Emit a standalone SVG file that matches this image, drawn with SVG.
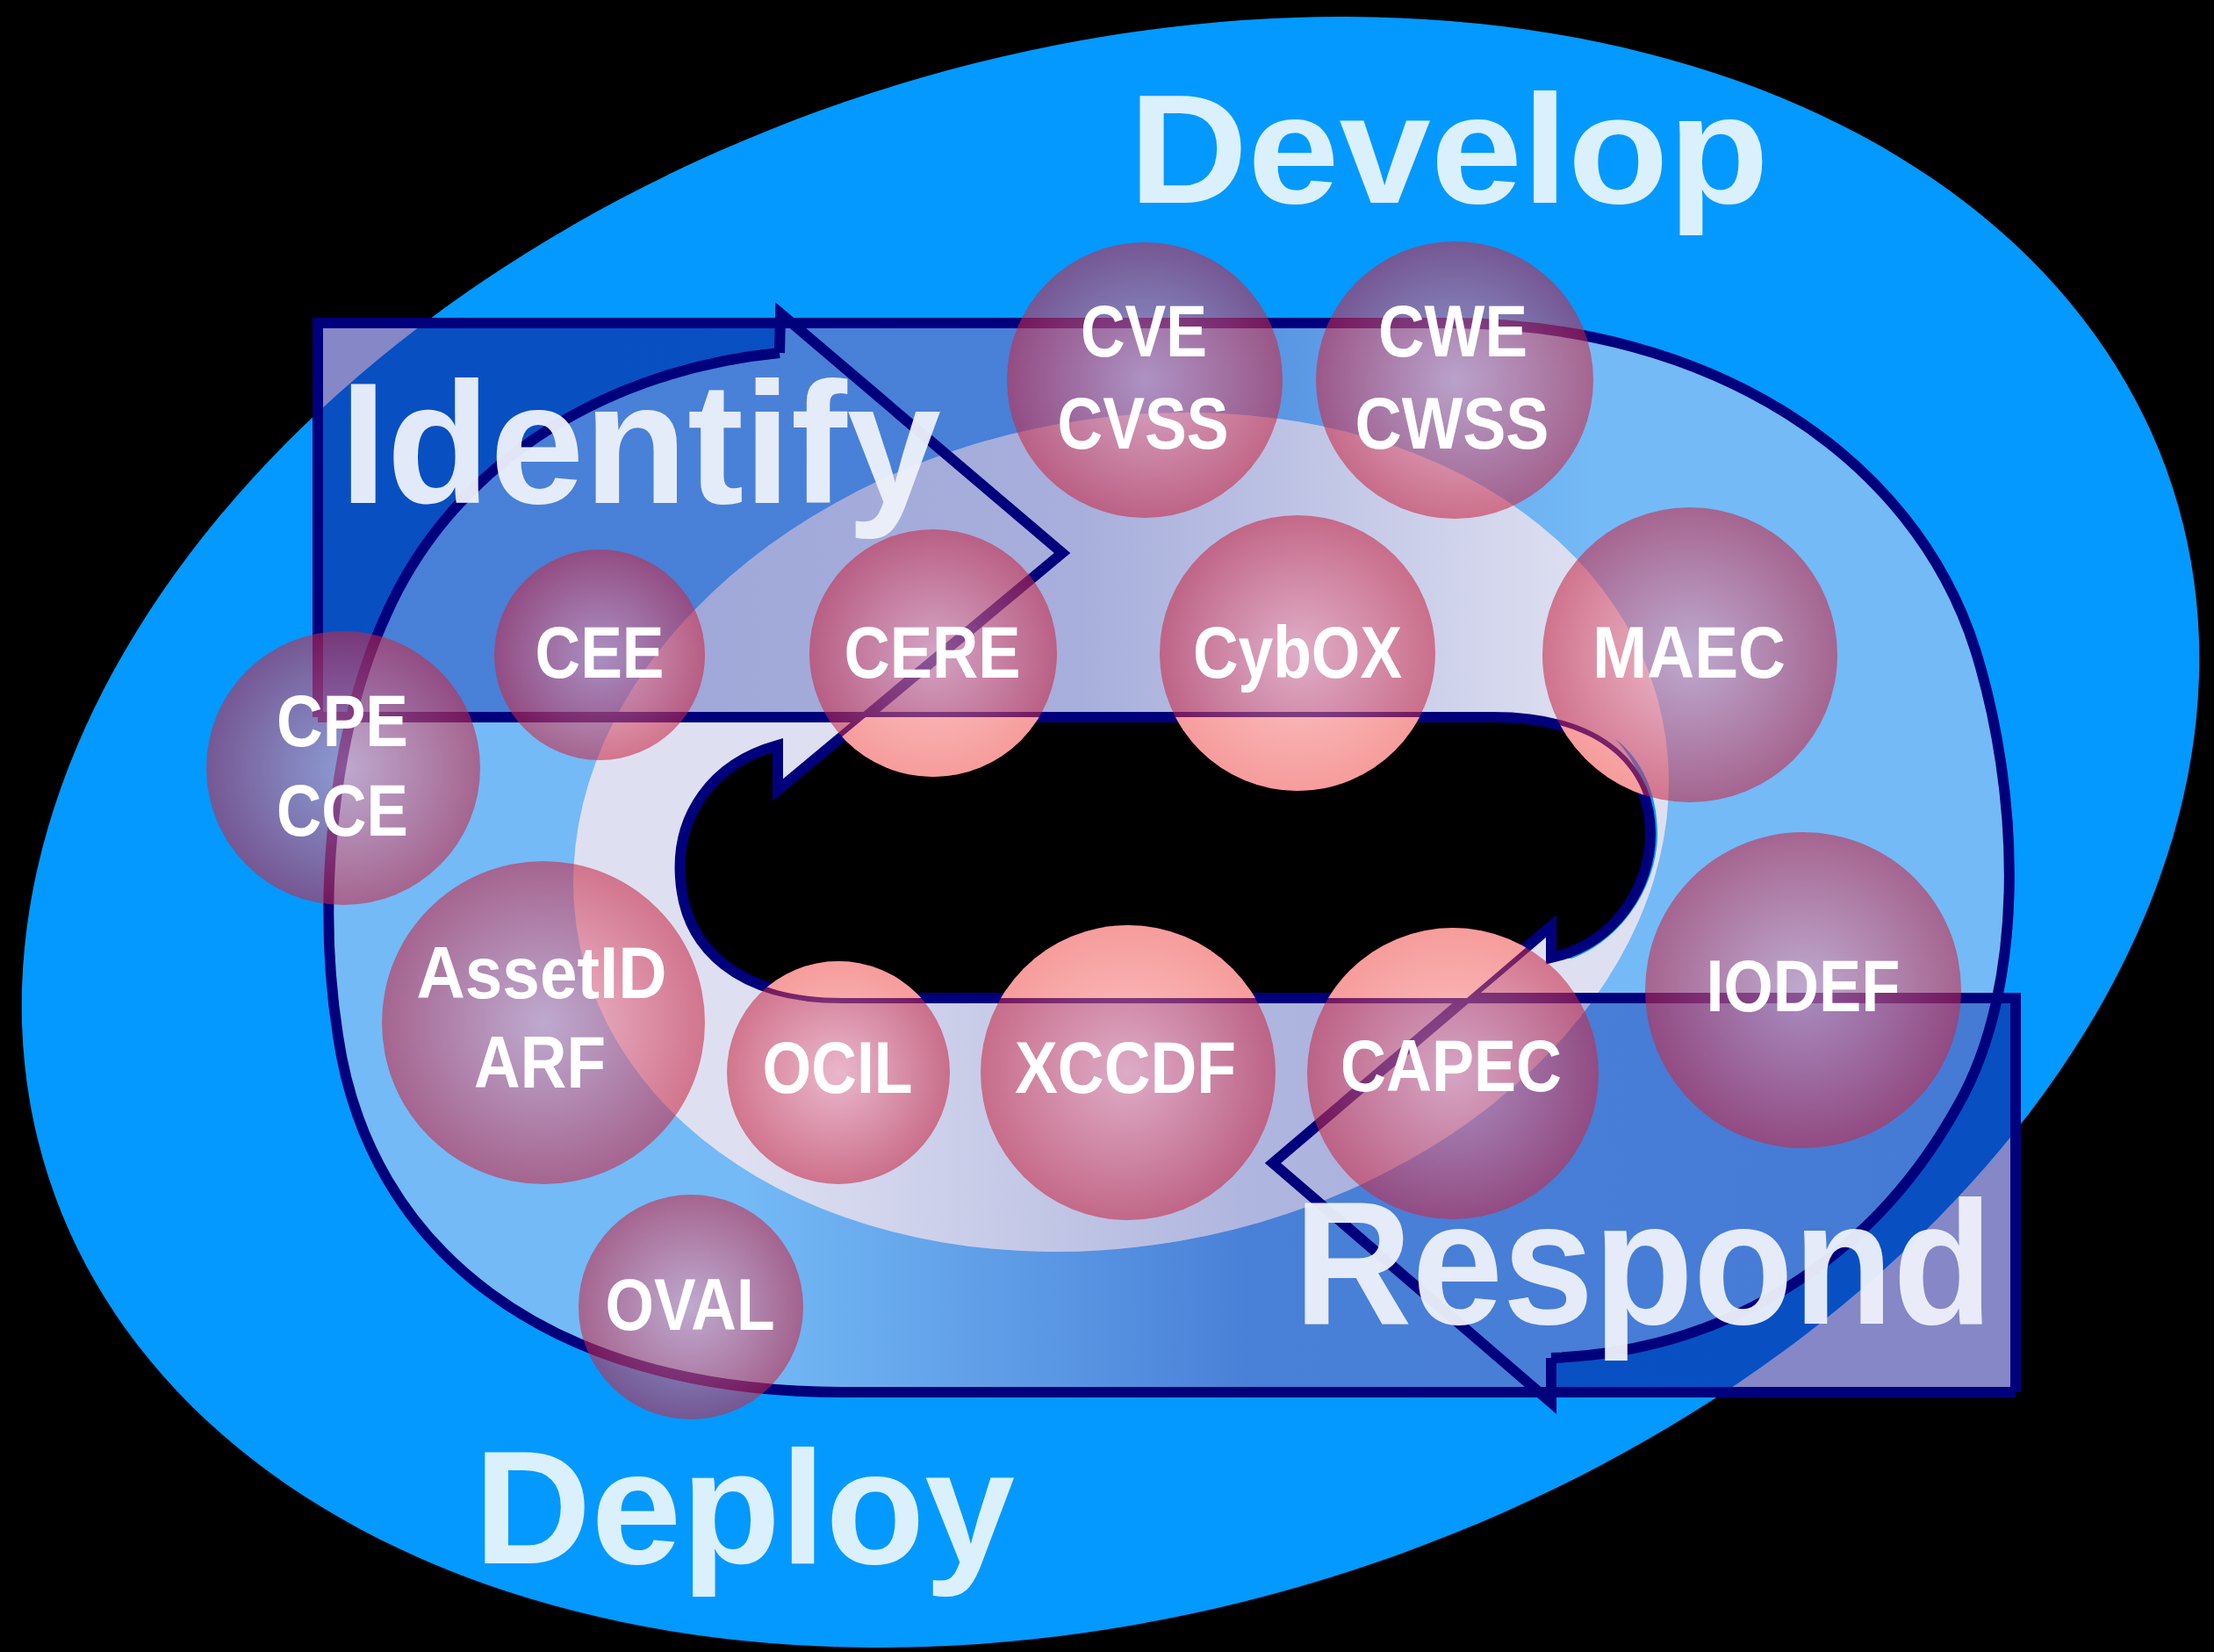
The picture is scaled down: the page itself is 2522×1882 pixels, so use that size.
<svg xmlns="http://www.w3.org/2000/svg" width="2522" height="1882" viewBox="0 0 2522 1882">
<style>
.lbl{font-family:"Liberation Sans",Arial,sans-serif;font-weight:bold;font-size:83px;fill:#ffffff;text-anchor:middle}
.big{font-family:"Liberation Sans",Arial,sans-serif;font-weight:bold}
.nav{fill:none;stroke:#00007c;stroke-width:12;stroke-linejoin:miter;stroke-miterlimit:10}
.c{fill:url(#pg)}
.ch{fill:url(#ph)}
</style>
<defs>
<radialGradient id="pg" cx="0.5" cy="0.5" r="0.5">
<stop offset="0" stop-color="rgb(250,155,175)" stop-opacity="0.55"/>
<stop offset="1" stop-color="rgb(200,40,70)" stop-opacity="0.58"/>
</radialGradient>
<radialGradient id="ph" cx="0.5" cy="0.5" r="0.5">
<stop offset="0" stop-color="#fcc6c6"/>
<stop offset="1" stop-color="#f69c9c"/>
</radialGradient>
<linearGradient id="aI" gradientUnits="userSpaceOnUse" x1="362" y1="0" x2="1812" y2="0">
<stop offset="0" stop-color="rgb(10,50,170)" stop-opacity="0.72"/>
<stop offset="0.6" stop-color="rgb(10,50,170)" stop-opacity="0.7"/>
<stop offset="1" stop-color="rgb(10,50,170)" stop-opacity="0"/>
</linearGradient>
<linearGradient id="aR" gradientUnits="userSpaceOnUse" x1="2296" y1="0" x2="846" y2="0">
<stop offset="0" stop-color="rgb(10,50,170)" stop-opacity="0.72"/>
<stop offset="0.6" stop-color="rgb(10,50,170)" stop-opacity="0.7"/>
<stop offset="1" stop-color="rgb(10,50,170)" stop-opacity="0"/>
</linearGradient>
<linearGradient id="bI" gradientUnits="userSpaceOnUse" x1="362" y1="0" x2="1812" y2="0">
<stop offset="0" stop-color="rgb(30,70,185)" stop-opacity="0.5"/>
<stop offset="0.6" stop-color="rgb(30,70,185)" stop-opacity="0.5"/>
<stop offset="1" stop-color="rgb(30,70,185)" stop-opacity="0"/>
</linearGradient>
<linearGradient id="bR" gradientUnits="userSpaceOnUse" x1="2296" y1="0" x2="846" y2="0">
<stop offset="0" stop-color="rgb(30,70,185)" stop-opacity="0.55"/>
<stop offset="0.6" stop-color="rgb(30,70,185)" stop-opacity="0.5"/>
<stop offset="1" stop-color="rgb(30,70,185)" stop-opacity="0"/>
</linearGradient>
<linearGradient id="cI" gradientUnits="userSpaceOnUse" x1="362" y1="0" x2="1812" y2="0">
<stop offset="0" stop-color="rgb(40,60,170)" stop-opacity="0.38"/>
<stop offset="0.6" stop-color="rgb(40,60,170)" stop-opacity="0.3"/>
<stop offset="1" stop-color="rgb(40,60,170)" stop-opacity="0"/>
</linearGradient>
<linearGradient id="cR" gradientUnits="userSpaceOnUse" x1="2296" y1="0" x2="846" y2="0">
<stop offset="0" stop-color="rgb(40,60,170)" stop-opacity="0.38"/>
<stop offset="0.6" stop-color="rgb(40,60,170)" stop-opacity="0.26"/>
<stop offset="1" stop-color="rgb(40,60,170)" stop-opacity="0"/>
</linearGradient>
<clipPath id="ellClip"><ellipse cx="1265" cy="948" rx="1272" ry="885" transform="rotate(-18 1265 948)"/></clipPath>
<clipPath id="ringClip"><path d="M889,357 L902,368 L1650,368 C1950,368 2180,520 2250,740 C2300,900 2310,1120 2230,1260 C2130,1440 1960,1540 1767,1547 L1767,1598 L1754,1586 L960,1586 C620,1586 420,1420 385,1180 C360,1020 380,830 440,700 C520,520 700,420 888,402 Z"/></clipPath>
<clipPath id="lavClip"><ellipse cx="1277" cy="948" rx="630" ry="470" transform="rotate(-12 1277 948)"/></clipPath>
<clipPath id="holeClip"><path d="M886,900 L886,849 C810,870 770,930 775,1000 C780,1080 840,1137 960,1137 L1671,1137 L1767,1055 L1767,1091 C1840,1075 1880,1010 1880,950 C1880,880 1830,817 1700,817 L986,817 Z"/></clipPath>
</defs>

<rect x="0" y="0" width="2522" height="1882" fill="#000000"/>

<g id="background">
<rect x="362" y="368" width="1450" height="449" fill="#8587c6"/>
<rect x="846" y="1137" width="1450" height="449" fill="#8587c6"/>
<ellipse cx="1265" cy="948" rx="1272" ry="885" transform="rotate(-18 1265 948)" fill="#0399fe"/>
<g clip-path="url(#ellClip)">
<rect x="362" y="368" width="1450" height="449" fill="url(#aI)"/>
<rect x="846" y="1137" width="1450" height="449" fill="url(#aR)"/>
</g>
<path d="M889,357 L902,368 L1650,368 C1950,368 2180,520 2250,740 C2300,900 2310,1120 2230,1260 C2130,1440 1960,1540 1767,1547 L1767,1598 L1754,1586 L960,1586 C620,1586 420,1420 385,1180 C360,1020 380,830 440,700 C520,520 700,420 888,402 Z" fill="#74baf6"/>
<path d="M889,357 L1210,630 L886,900 Z" fill="#74baf6"/>
<g clip-path="url(#ringClip)">
<rect x="362" y="368" width="1450" height="449" fill="url(#bI)"/>
<rect x="846" y="1137" width="1450" height="449" fill="url(#bR)"/>
</g>
<ellipse cx="1277" cy="948" rx="630" ry="470" transform="rotate(-12 1277 948)" fill="#dee0f1"/>
<g clip-path="url(#lavClip)">
<rect x="362" y="368" width="1450" height="449" fill="url(#cI)"/>
<rect x="846" y="1137" width="1450" height="449" fill="url(#cR)"/>
</g>
<path d="M1790,1092 C1846,1072 1888,1010 1888,950 C1888,904 1870,864 1840,842 C1866,870 1880,905 1880,950 C1880,1010 1840,1075 1767,1091 Z" fill="#0399fe"/>
<path d="M886,900 L886,849 C810,870 770,930 775,1000 C780,1080 840,1137 960,1137 L1671,1137 L1767,1055 L1767,1091 C1840,1075 1880,1010 1880,950 C1880,880 1830,817 1700,817 L986,817 Z" fill="#000000"/>
</g>

<g id="connectors">
<path class="nav" d="M888,402 C700,420 520,520 440,700 C380,830 360,1020 385,1180 C420,1420 620,1586 960,1586 L2296,1586"/>
<path class="nav" d="M362,817 L362,368 L1650,368 C1950,368 2180,520 2250,740 C2300,900 2310,1120 2230,1260 C2130,1440 1960,1540 1767,1547"/>
<path class="nav" d="M888,402 L889,357 L1210,630 L886,900 L886,849 C810,870 770,930 775,1000 C780,1080 840,1137 960,1137 L2296,1137 L2296,1586"/>
<path class="nav" d="M1767,1547 L1767,1598 L1450,1325 L1767,1055 L1767,1091 C1840,1075 1880,1010 1880,950 C1880,880 1830,817 1700,817 L362,817"/>
</g>

<g id="n-cve"><circle class="c" cx="1304" cy="433" r="157"/><g clip-path="url(#holeClip)"><circle class="ch" cx="1304" cy="433" r="157"/></g>
<text class="lbl" x="1303" y="406" textLength="144" lengthAdjust="spacingAndGlyphs">CVE</text>
<text class="lbl" x="1302" y="511" textLength="195" lengthAdjust="spacingAndGlyphs">CVSS</text></g>
<g id="n-cwe"><circle class="c" cx="1657" cy="433" r="158"/><g clip-path="url(#holeClip)"><circle class="ch" cx="1657" cy="433" r="158"/></g>
<text class="lbl" x="1655" y="406" textLength="170" lengthAdjust="spacingAndGlyphs">CWE</text>
<text class="lbl" x="1654" y="511" textLength="221" lengthAdjust="spacingAndGlyphs">CWSS</text></g>
<g id="n-cee"><circle class="c" cx="683" cy="746" r="120"/><g clip-path="url(#holeClip)"><circle class="ch" cx="683" cy="746" r="120"/></g>
<text class="lbl" x="683" y="772" textLength="147" lengthAdjust="spacingAndGlyphs">CEE</text></g>
<g id="n-cere"><circle class="c" cx="1063" cy="744" r="141"/><g clip-path="url(#holeClip)"><circle class="ch" cx="1063" cy="744" r="141"/></g>
<text class="lbl" x="1062" y="772" textLength="201" lengthAdjust="spacingAndGlyphs">CERE</text></g>
<g id="n-cybox"><circle class="c" cx="1478" cy="744" r="157"/><g clip-path="url(#holeClip)"><circle class="ch" cx="1478" cy="744" r="157"/></g>
<text class="lbl" x="1478" y="772" textLength="238" lengthAdjust="spacingAndGlyphs">CybOX</text></g>
<g id="n-maec"><circle class="c" cx="1925" cy="746" r="168"/><g clip-path="url(#holeClip)"><circle class="ch" cx="1925" cy="746" r="168"/></g>
<text class="lbl" x="1924" y="772" textLength="220" lengthAdjust="spacingAndGlyphs">MAEC</text></g>
<g id="n-cpe"><circle class="c" cx="391" cy="875" r="156"/>
<text class="lbl" x="390" y="850" textLength="150" lengthAdjust="spacingAndGlyphs">CPE</text>
<text class="lbl" x="390" y="952" textLength="150" lengthAdjust="spacingAndGlyphs">CCE</text></g>
<g id="n-assetid"><circle class="c" cx="619" cy="1165" r="184"/>
<text class="lbl" x="617" y="1137" textLength="285" lengthAdjust="spacingAndGlyphs">AssetID</text>
<text class="lbl" x="615" y="1239" textLength="150" lengthAdjust="spacingAndGlyphs">ARF</text></g>
<g id="n-ocil"><circle class="c" cx="955" cy="1222" r="127"/><g clip-path="url(#holeClip)"><circle class="ch" cx="955" cy="1222" r="127"/></g>
<text class="lbl" x="954" y="1245" textLength="171" lengthAdjust="spacingAndGlyphs">OCIL</text></g>
<g id="n-xccdf"><circle class="c" cx="1285" cy="1222" r="168"/><g clip-path="url(#holeClip)"><circle class="ch" cx="1285" cy="1222" r="168"/></g>
<text class="lbl" x="1282" y="1245" textLength="252" lengthAdjust="spacingAndGlyphs">XCCDF</text></g>
<g id="n-capec"><circle class="c" cx="1655" cy="1223" r="166"/><g clip-path="url(#holeClip)"><circle class="ch" cx="1655" cy="1223" r="166"/></g>
<text class="lbl" x="1653" y="1243" textLength="252" lengthAdjust="spacingAndGlyphs">CAPEC</text></g>
<g id="n-iodef"><circle class="c" cx="2054" cy="1128" r="180"/><g clip-path="url(#holeClip)"><circle class="ch" cx="2054" cy="1128" r="180"/></g>
<text class="lbl" x="2054" y="1152" textLength="221" lengthAdjust="spacingAndGlyphs">IODEF</text></g>
<g id="n-oval"><circle class="c" cx="787" cy="1489" r="128"/>
<text class="lbl" x="786" y="1515" textLength="193" lengthAdjust="spacingAndGlyphs">OVAL</text></g>

<g id="t-develop"><text class="big" x="1286" y="231" font-size="177" fill="#dbf0fd" textLength="729" lengthAdjust="spacingAndGlyphs">Develop</text></g>
<g id="t-identify"><text class="big" x="387" y="573" font-size="197" fill="#eef1fb" fill-opacity="0.95" textLength="685" lengthAdjust="spacingAndGlyphs">Identify</text></g>
<g id="t-respond"><text class="big" x="1474" y="1508" font-size="200" fill="#eef1fb" fill-opacity="0.95" textLength="796" lengthAdjust="spacingAndGlyphs">Respond</text></g>
<g id="t-deploy"><text class="big" x="540" y="1781" font-size="184" fill="#dbf0fd" textLength="616" lengthAdjust="spacingAndGlyphs">Deploy</text></g>
</svg>
